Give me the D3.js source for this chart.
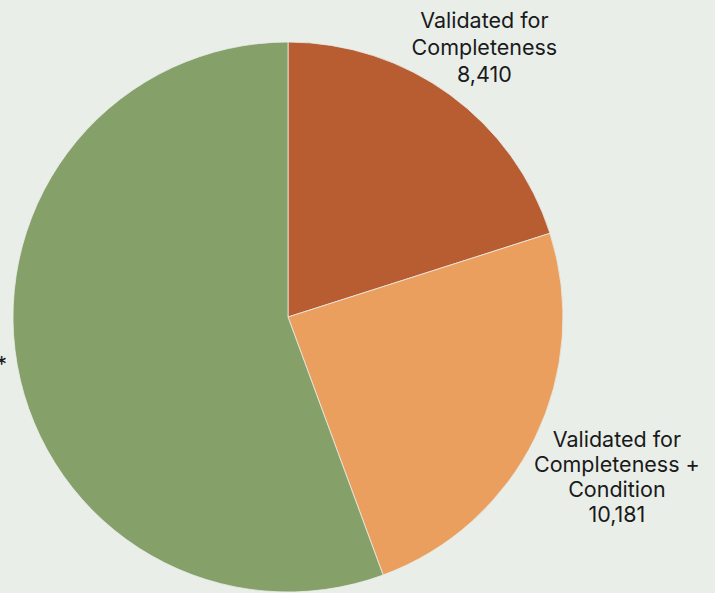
<!DOCTYPE html>
<html>
<head>
<meta charset="utf-8">
<script src="https://cdn.jsdelivr.net/npm/d3@7"></script>
<style>
  html, body { margin: 0; padding: 0; background: #e9eee9; }
  svg { display: block; }
  text { font-family: Inter, "Noto Sans", sans-serif; font-size: 21.5px; fill: #1a1a1a; }
</style>
</head>
<body>
<svg></svg>
<script>
// slice data, clockwise from 12 o'clock
const categories = [
    ['Validated for', 'Completeness'],
    ['Validated for', 'Completeness +', 'Condition'],
    ['Not Validated*']
];
const values = [8410, 10181, 23300];
const colors = ['#b85c32', '#eb9f5f', '#86a06a'];

const width = 715;
const height = 593;
const cx = 288, cy = 317, radius = 275;

const svg = d3.select('svg')
    .attr('width', width)
    .attr('height', height)
    .attr('viewBox', [0, 0, width, height]);

const pie = d3.pie().sort(null).value(d => d.value);
const arc = d3.arc().innerRadius(0).outerRadius(radius);

const data = values.map((v, i) => ({ name: categories[i], value: v, color: colors[i] }));
const arcs = pie(data);

const g = svg.append('g').attr('transform', `translate(${cx},${cy})`);

// Draws the slices
g.selectAll('path')
    .data(arcs)
    .enter()
    .append('path')
    .attr('d', arc)
    .attr('fill', d => d.data.color)
    .attr('stroke', '#e9eee9')
    .attr('stroke-width', 0.8);

// label distance from the centre, one per slice
const labelRadius = [333, 366, 330];
const lineHeights = [27, 25, 26];

arcs.forEach((d, i) => {
    const a = (d.startAngle + d.endAngle) / 2;
    const lx = Math.sin(a) * labelRadius[i];
    const ly = -Math.cos(a) * labelRadius[i];
    const lines = d.data.name.concat([d3.format(',')(d.data.value)]);
    const lh = lineHeights[i];

    const t = g.append('text')
        .attr('text-anchor', 'middle');
    lines.forEach((line, j) => {
        t.append('tspan')
            .attr('x', lx)
            .attr('y', ly + (j - (lines.length - 1) / 2) * lh + 7)
            .text(line);
    });

    // last slice label runs off the left edge, only the asterisk shows
    if (i === 2) {
        const w = t.select('tspan').node().getComputedTextLength();
        const x = 7 - cx - w / 2;
        t.selectAll('tspan').attr('x', x);
        t.selectAll('tspan').attr('y', (dd, j) => 372 - cy + j * lh);
    }
});
</script>
</body>
</html>
